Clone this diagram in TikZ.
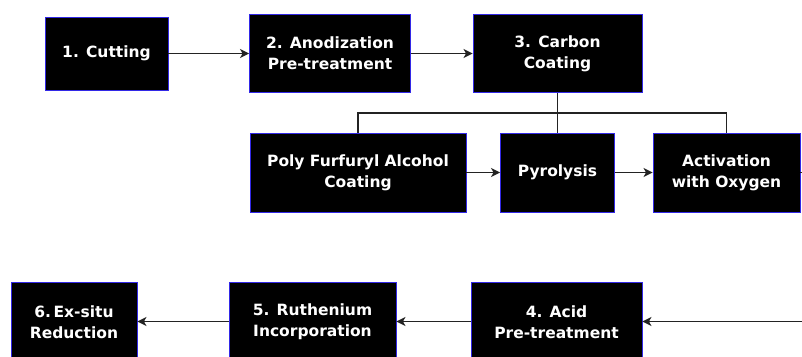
\documentclass[tikz,border=0pt]{standalone}
\usepackage{fontspec}
\setmainfont{DejaVu Sans}
\usetikzlibrary{arrows.meta}
\definecolor{boxedge}{RGB}{50,40,230}
\definecolor{linec}{RGB}{35,35,35}
\tikzset{
  stepbox/.style={draw=boxedge, line width=0.9bp, fill=black, text=white,
    font=\fontsize{15.5bp}{21bp}\selectfont\bfseries, align=center,
    inner sep=0pt, minimum height=78bp},
  flow/.style={draw=linec, line width=1.4bp, -{Stealth[length=9bp,width=9bp,inset=2.5bp]}},
  link/.style={draw=linec, line width=1.4bp}
}
\begin{document}
\begin{tikzpicture}[x=1bp,y=-1bp]
\useasboundingbox[fill=white] (0,0) rectangle (802,356);
\node[stepbox, minimum width=123bp, minimum height=73bp] (cut) at (106.5,53.5) {1. Cutting};
\node[stepbox, minimum width=161bp] (anod) at (330,53.5) {2. Anodization\\Pre-treatment};
\node[stepbox, minimum width=169bp] (carb) at (557.5,53.5) {3. Carbon\\Coating};
\node[stepbox, minimum width=216bp, minimum height=79bp] (pfa) at (358,172.5) {Poly Furfuryl Alcohol\\Coating};
\node[stepbox, minimum width=114bp, minimum height=79bp] (pyro) at (557.5,172.5) {Pyrolysis};
\node[stepbox, minimum width=147bp, minimum height=79bp] (act) at (726.5,172.5) {Activation\\with Oxygen};
\node[stepbox, minimum width=171bp, minimum height=80bp] (acid) at (556.5,322) {4. Acid\\Pre-treatment};
\node[stepbox, minimum width=167bp, minimum height=80bp] (ruth) at (312.5,322) {5. Ruthenium\\Incorporation};
\node[stepbox, minimum width=126bp, minimum height=80bp] (exsitu) at (74,322) {6.\,Ex-situ\\Reduction};
\coordinate (junc) at (557.5,113);
\coordinate (outA) at (806,172.5);
\coordinate (inB) at (806,321.5);
\draw[flow] (cut) -- (anod);
\draw[flow] (anod) -- (carb);
\draw[link] (carb.south) -- (pyro.north);
\draw[link] (pfa.north) -- (pfa.north |- junc) -- (act.north |- junc) -- (act.north);
\draw[flow] (pfa) -- (pyro);
\draw[flow] (pyro) -- (act);
\draw[link] (act.east) -- (outA);
\draw[flow] (inB) -- (acid.east |- inB);
\draw[flow] (acid.west |- inB) -- (ruth.east |- inB);
\draw[flow] (ruth.west |- inB) -- (exsitu.east |- inB);
\end{tikzpicture}
\end{document}
